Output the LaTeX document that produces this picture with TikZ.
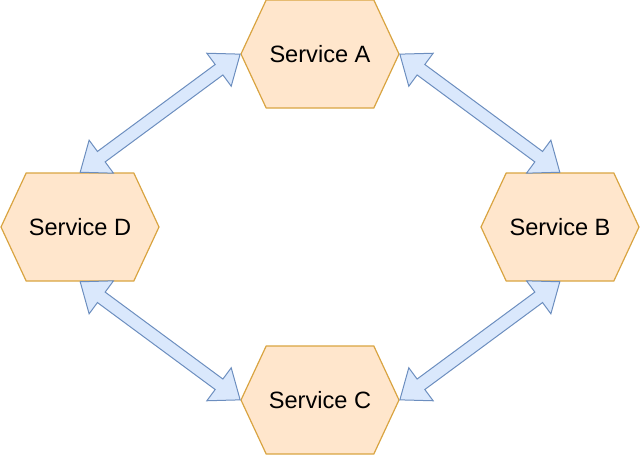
\documentclass[tikz,border=0pt]{standalone}
\usepackage{fontspec}
\setmainfont{Liberation Sans}
\usetikzlibrary{shapes.symbols, shapes.arrows, positioning, calc}

\definecolor{svcfill}{HTML}{FFE6CC}
\definecolor{svcline}{HTML}{D9A441}
\definecolor{linkfill}{HTML}{DAE8FC}
\definecolor{linkline}{HTML}{6C8EBF}

\newcommand{\linkarrow}[2]{%
  \path let \p1=($(#2)-(#1)$), \n1={atan2(\y1,\x1)}, \n2={veclen(\x1,\y1)} in
    ($(#1)!0.5!(#2)$) node[link, rotate=\n1, minimum height=\n2] {};}

\begin{document}
\begin{tikzpicture}[
    node distance=86.5pt and 120pt, on grid,
    service/.style={signal, signal to=west and east, signal pointer angle=130, draw=svcline, fill=svcfill, line width=0.6pt, minimum width=79pt, minimum height=54pt, inner sep=0pt, font=\fontsize{11.8}{14}\selectfont},
    link/.style={double arrow, double arrow tip angle=76, double arrow head extend=7pt, inner sep=3pt, draw=linkline, fill=linkfill, line width=0.5pt}
]
    \useasboundingbox (-160pt,27pt) rectangle (160pt,-200.5pt);
    \node[service] (svcA) {Service A};
    \node[service, below left=of svcA] (svcD) {Service D};
    \node[service, below right=of svcA] (svcB) {Service B};
    \node[service, below right=of svcD] (svcC) {Service C};

    \linkarrow{svcD.north}{svcA.west}
    \linkarrow{svcA.east}{svcB.north}
    \linkarrow{svcC.east}{svcB.south}
    \linkarrow{svcD.south}{svcC.west}
\end{tikzpicture}
\end{document}
